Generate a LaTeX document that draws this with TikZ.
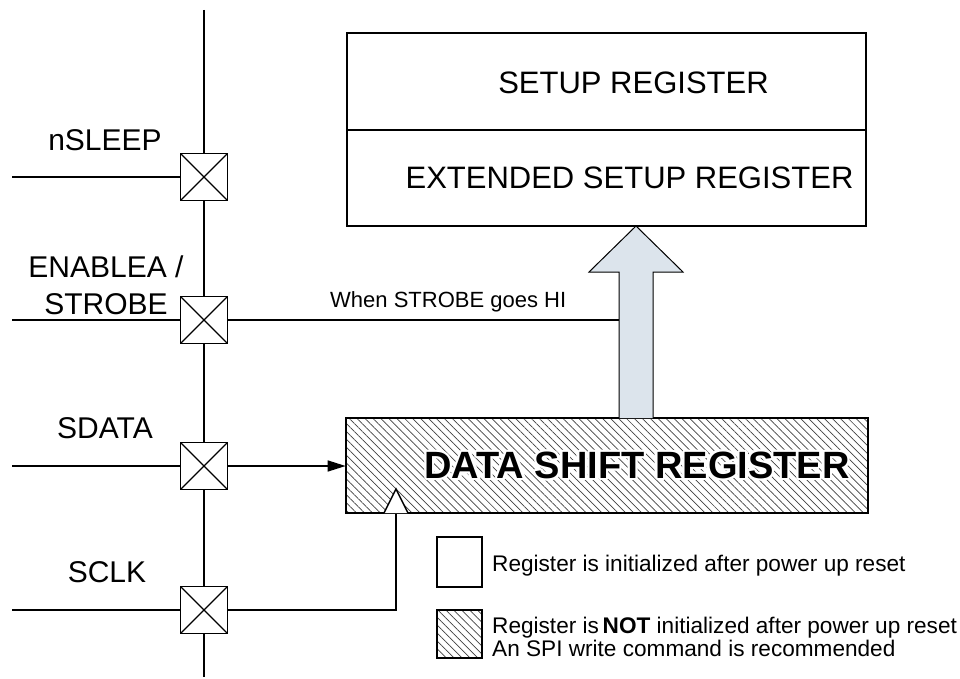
\documentclass[tikz,border=0pt]{standalone}
\usepackage{fontspec}
\setmainfont{Liberation Sans}
\usetikzlibrary{arrows.meta,patterns.meta}
\definecolor{arrowfill}{RGB}{220,228,236}
\tikzset{
  pad/.style={draw,line width=1.9pt,fill=white,minimum size=47pt,inner sep=0pt,
    path picture={\draw[line width=1.2pt]
      (path picture bounding box.north west) -- (path picture bounding box.south east)
      (path picture bounding box.south west) -- (path picture bounding box.north east);}},
  wire/.style={line width=1.4pt},
  biglabel/.style={font=\fontsize{30}{34}\selectfont,inner sep=0pt,anchor=base},
  smalltxt/.style={font=\fontsize{22}{26}\selectfont,inner sep=0pt,anchor=base west},
  legtxt/.style={font=\fontsize{22.6}{26}\selectfont,inner sep=0pt,anchor=base west},
  hatch/.style={pattern={Lines[angle=-45,distance=5.6pt,line width=0.7pt]},pattern color=black!75},
  regbox/.style={draw,line width=1.5pt,fill=white,inner sep=0pt},
  regtxt/.style={font=\fontsize{31}{35}\selectfont,inner sep=0pt},
  dsrtxt/.style={font=\fontsize{38}{42}\selectfont\bfseries,inner sep=0pt},
}
\begin{document}
\begin{tikzpicture}[x=1pt,y=-1pt]
\useasboundingbox (0,0) rectangle (960,679);
% bus
\coordinate (bt) at (204,10);
\coordinate (bb) at (204,677);
\draw[wire] (bt) -- (bb);
% pads
\node[pad] (p1) at (204,177) {};
\node[pad] (p2) at (204,320) {};
\node[pad] (p3) at (204,466) {};
\node[pad] (p4) at (204,610) {};
% input wires
\coordinate (i1) at (12,177);
\coordinate (i2) at (12,320);
\coordinate (i3) at (12,466);
\coordinate (i4) at (12,610);
\draw[wire] (i1) -- (p1.west);
\draw[wire] (i2) -- (p2.west);
\draw[wire] (i3) -- (p3.west);
\draw[wire] (i4) -- (p4.west);
% labels
\node[biglabel] (l1) at (105,151) {nSLEEP};
\node[biglabel] (l2a) at (106,277) {ENABLEA /};
\node[biglabel] (l2b) at (106,314) {STROBE};
\node[biglabel] (l3) at (105,438) {SDATA};
\node[biglabel] (l4) at (107,582) {SCLK};
% setup registers
\node[regbox,minimum width=519pt,minimum height=97pt] (setup) at (606.5,81.5) {};
\node[regbox,minimum width=519pt,minimum height=96pt] (ext) at (606.5,178) {};
\node[regtxt] (setupt) at ([xshift=27pt,yshift=-1pt]setup.center) {SETUP REGISTER};
\node[regtxt] (extt) at ([xshift=23pt]ext.center) {EXTENDED SETUP REGISTER};
% data shift register
\node[draw,line width=1.5pt,hatch,minimum width=522pt,minimum height=95pt,inner sep=0pt] (dsr) at (607,465.5) {};
\coordinate (dsrc) at ([xshift=30pt]dsr.center);
\foreach \ang in {0,30,...,330}
  \path (dsrc) ++(\ang:2.4pt) node[dsrtxt,text=white] (halo\ang) {DATA SHIFT REGISTER};
\node[dsrtxt] (dsrt) at (dsrc) {DATA SHIFT REGISTER};
% big arrow
\coordinate (a1) at (619,418);
\coordinate (a2) at (619,272);
\coordinate (a3) at (589,272);
\coordinate (tip) at (636,226);
\coordinate (a5) at (683,272);
\coordinate (a6) at (653,272);
\coordinate (a7) at (653,418);
\draw[line width=1pt,fill=arrowfill] (a1) -- (a2) -- (a3) -- (tip) -- (a5) -- (a6) -- (a7);
% strobe line
\draw[wire] (p2.east) -- (p2.east -| a2);
\node[smalltxt] (strobetxt) at (330,307) {When STROBE goes HI};
% sdata arrow
\draw[wire,-{Triangle[length=18pt,width=11pt]}] (p3.east) -- (p3.east -| dsr.west);
% sclk
\coordinate (clk) at (396,513);
\draw[wire] (p4.east) -| (clk);
\coordinate (c1) at (384,513);
\coordinate (c2) at (396,489);
\coordinate (c3) at (408,513);
\draw[wire,fill=white,line join=miter] (c1) -- (c2) -- (c3);
% legend
\node[draw,line width=1.5pt,fill=white,minimum width=45pt,minimum height=50pt,inner sep=0pt] (leg1) at (459.5,562) {};
\node[draw,line width=1.5pt,hatch,minimum width=45pt,minimum height=48pt,inner sep=0pt] (leg2) at (459.5,634) {};
\node[legtxt] (lt1) at (492,571) {Register is initialized after power up reset};
\node[legtxt] (lt2) at (492,633) {Register is\,\textbf{NOT} initialized after power up reset};
\node[legtxt] (lt3) at (492,656) {An SPI write command is recommended};
\end{tikzpicture}
\end{document}
